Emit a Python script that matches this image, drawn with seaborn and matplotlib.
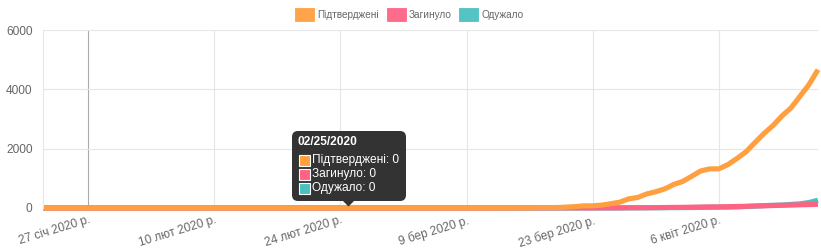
import matplotlib
matplotlib.use("Agg")
import matplotlib.pyplot as plt
from matplotlib.patches import FancyBboxPatch, Polygon, Rectangle
from matplotlib.transforms import Affine2D
import pandas as pd
import seaborn as sns

# ---------------- data ----------------
start_date = "2020-01-22"
end_date = "2020-04-17"
dates = pd.date_range(start_date, end_date, freq="D")

confirmed = [
    0, 0, 0, 0, 0, 0, 0, 0, 0, 0,                       # Jan 22-31
    0, 0, 0, 0, 0, 0, 0, 0, 0, 0,                       # Feb 1-10
    0, 0, 0, 0, 0, 0, 0, 0, 0, 0,                       # Feb 11-20
    0, 0, 0, 0, 0, 0, 0, 0, 0,                          # Feb 21-29
    0, 0, 1, 1, 1, 1, 1, 1, 1, 1,                       # Mar 1-10
    1, 3, 3, 3, 3, 7, 14, 14, 16, 29,                   # Mar 11-20
    47, 73, 73, 97, 145, 196, 310, 356, 475, 548, 645,  # Mar 21-31
    794, 897, 1072, 1251, 1319, 1319, 1462, 1668, 1892, 2203,  # Apr 1-10
    2511, 2777, 3102, 3372, 3764, 4161, 4662,           # Apr 11-17
]
deaths = [
    0, 0, 0, 0, 0, 0, 0, 0, 0, 0,
    0, 0, 0, 0, 0, 0, 0, 0, 0, 0,
    0, 0, 0, 0, 0, 0, 0, 0, 0, 0,
    0, 0, 0, 0, 0, 0, 0, 0, 0,
    0, 0, 0, 0, 0, 0, 0, 0, 0, 0,
    0, 0, 1, 1, 1, 2, 2, 3, 3, 3,
    3, 3, 3, 4, 5, 5, 9, 9, 10, 13, 17,
    20, 23, 27, 32, 37, 38, 45, 52, 57, 69,
    73, 83, 93, 98, 108, 116, 125,
]
recovered = [
    0, 0, 0, 0, 0, 0, 0, 0, 0, 0,
    0, 0, 0, 0, 0, 0, 0, 0, 0, 0,
    0, 0, 0, 0, 0, 0, 0, 0, 0, 0,
    0, 0, 0, 0, 0, 0, 0, 0, 0,
    0, 0, 0, 0, 0, 0, 0, 0, 0, 0,
    0, 0, 0, 0, 0, 0, 0, 0, 0, 1,
    1, 1, 1, 1, 1, 1, 5, 5, 6, 8, 10,
    13, 13, 16, 20, 25, 28, 29, 35, 50, 61,
    79, 92, 98, 122, 140, 186, 261,
]

series_names = ["Підтверджені", "Загинуло", "Одужало"]
series_colors = ["#ff9f40", "#ff6384", "#4bc0c0"]

tick_dates = ["2020-01-27", "2020-02-10", "2020-02-24", "2020-03-09", "2020-03-23", "2020-04-06"]
tick_labels = ["27 січ 2020 р.", "10 лют 2020 р.", "24 лют 2020 р.",
               "9 бер 2020 р.", "23 бер 2020 р.", "6 квіт 2020 р."]
y_ticks = [0, 2000, 4000, 6000]

tooltip_title = "02/25/2020"
tooltip_values = [0, 0, 0]

# ---------------- plot ----------------
sns.set_theme(style="white")
plt.rcParams["font.family"] = ["Liberation Sans", "DejaVu Sans"]

W, H = 821, 250
fig = plt.figure(figsize=(W / 100, H / 100), dpi=100)
ax = fig.add_axes([43 / W, 42 / H, 775 / W, 178 / H])

df = pd.DataFrame({
    "date": list(dates) * 3,
    "value": confirmed + deaths + recovered,
    "series": [series_names[0]] * len(dates) + [series_names[1]] * len(dates) + [series_names[2]] * len(dates),
})

# draw in reverse so the first dataset is on top
for name, color in reversed(list(zip(series_names, series_colors))):
    sub = df[df["series"] == name]
    sns.lineplot(data=sub, x="date", y="value", color=color, linewidth=3.7,
                 ax=ax, legend=False, clip_on=False, solid_joinstyle="round",
                 solid_capstyle="butt")

ax.set_xlim(pd.Timestamp(start_date), pd.Timestamp(end_date))
ax.set_ylim(0, 6000)
ax.set_xlabel("")
ax.set_ylabel("")

grid_c = "#e6e6e6"
zero_c = "#aaaaaa"
ax.set_xticks([pd.Timestamp(d) for d in tick_dates])
ax.set_xticklabels(tick_labels, rotation=17, ha="right", va="top",
                   rotation_mode="anchor", color="#666666", fontsize=8.6)
ax.set_yticks(y_ticks)
ax.set_yticklabels([str(v) for v in y_ticks], color="#666666", fontsize=8.6)
ax.tick_params(axis="x", length=7.5, width=0.8, color=grid_c, pad=-3, direction="out")
ax.tick_params(axis="y", length=6.5, width=0.8, color=grid_c, pad=1, direction="out")
ax.grid(True, color=grid_c, linewidth=0.8)
ax.set_axisbelow(True)
xg = ax.get_xgridlines()
if xg:
    xg[0].set_color(zero_c)
xt = ax.xaxis.get_major_ticks()
if xt:
    xt[0].tick1line.set_color(zero_c)
for s in ["top", "right", "bottom"]:
    ax.spines[s].set_visible(False)
ax.spines["left"].set_color(grid_c)
ax.spines["left"].set_linewidth(0.8)

# pixel transform (x right, y down from the top-left corner)
tr = Affine2D().scale(1, -1).translate(0, H)

# legend
leg_boxes = [295, 387, 459]
for x0, name, color in zip(leg_boxes, series_names, series_colors):
    fig.patches.append(Rectangle((x0, 8), 19, 13, transform=tr, facecolor=color,
                                 edgecolor=color, linewidth=0.6, alpha=0.95))
    fig.text(x0 + 22, 15, name, transform=tr, fontsize=7.2, color="#666666",
             ha="left", va="center")

# tooltip
tt_bg = "#333333"
fig.patches.append(FancyBboxPatch((292, 131), 114, 70, transform=tr,
                                  boxstyle="round,pad=0,rounding_size=6",
                                  facecolor=tt_bg, edgecolor="none"))
fig.patches.append(Polygon([(342, 200), (355, 200), (348.5, 206.5)], closed=True,
                           transform=tr, facecolor=tt_bg, edgecolor="none"))
fig.text(298, 142, tooltip_title, transform=tr, fontsize=8.6, color="white",
         fontweight="bold", ha="left", va="center")
row_y = [160, 174, 188]
for yy, name, color, val in zip(row_y, series_names, series_colors, tooltip_values):
    fig.patches.append(Rectangle((298.5, yy - 5.5), 11, 11, transform=tr,
                                 facecolor=color, edgecolor="white", linewidth=0.8))
    fig.text(311.5, yy, f"{name}: {val}", transform=tr, fontsize=8.6,
             color="white", ha="left", va="center")

fig.savefig("out.png", dpi=100)
